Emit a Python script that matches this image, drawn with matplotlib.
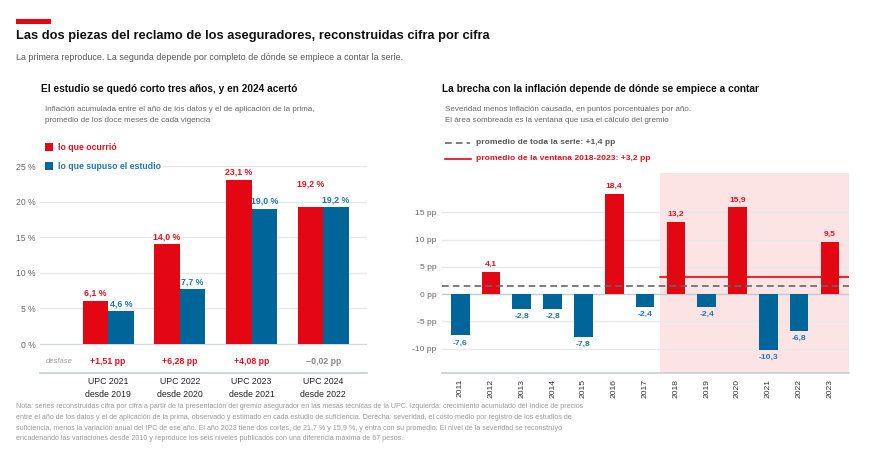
import matplotlib
matplotlib.use("Agg")
import matplotlib.pyplot as plt
from matplotlib.patches import Rectangle
from matplotlib.lines import Line2D
import numpy as np

plt.rcParams['font.family'] = ['Liberation Sans', 'DejaVu Sans']

# --- datos panel izquierdo ---
vigencias = ["UPC 2021\ndesde 2019", "UPC 2022\ndesde 2020", "UPC 2023\ndesde 2021", "UPC 2024\ndesde 2022"]
ocurrio = [6.1, 14.0, 23.1, 19.2]
supuso = [4.6, 7.7, 19.0, 19.2]
desfase = [1.51, 6.28, 4.08, -0.02]
pct_ticks = [0, 5, 10, 15, 20, 25]

# --- datos panel derecho ---
anios = [2011, 2012, 2013, 2014, 2015, 2016, 2017, 2018, 2019, 2020, 2021, 2022, 2023]
brecha = [-7.6, 4.1, -2.8, -2.8, -7.8, 18.4, -2.4, 13.2, -2.4, 15.9, -10.3, -6.8, 9.5]
pp_ticks = [-10, -5, 0, 5, 10, 15]
ventana = (2018, 2023)

RED = '#e30613'
BLUE = '#006699'
RED_TXT = '#e8101e'
BLUE_TXT = '#1f78b0'
GRID = '#e6e8ea'
AXLINE = '#c6ced4'

W, H = 889, 458
fig = plt.figure(figsize=(W / 100, H / 100), dpi=100)

def fx(px):
    return px / W

def fy(py):
    return 1 - py / H

# cabecera
fig.add_artist(Rectangle((fx(16), fy(24)), fx(51) - fx(16), fy(19) - fy(24), color=RED, lw=0))
fig.text(fx(16), fy(36), "Las dos piezas del reclamo de los aseguradores, reconstruidas cifra por cifra",
         fontsize=9.3, fontweight='bold', color='#111111', va='center')
fig.text(fx(16), fy(57), "La primera reproduce. La segunda depende por completo de dónde se empiece a contar la serie.",
         fontsize=6.4, color='#555555', va='center')

# ================= panel izquierdo =================
fig.text(fx(41), fy(89), "El estudio se quedó corto tres años, y en 2024 acertó",
         fontsize=7.3, fontweight='bold', color='#111111', va='center')
fig.text(fx(45), fy(115), "Inflación acumulada entre el año de los datos y el de aplicación de la prima,\n"
         "promedio de los doce meses de cada vigencia",
         fontsize=5.8, color='#666666', va='center', linespacing=1.75)

ax1 = fig.add_axes([fx(40), fy(373), fx(367) - fx(40), fy(166) - fy(373)])
x = np.arange(len(vigencias))
bw = 0.355
ax1.bar(x - bw / 2, ocurrio, bw, color=RED, zorder=3)
ax1.bar(x + bw / 2, supuso, bw, color=BLUE, zorder=3)
ax1.set_xlim(-0.95, 3.61)
ax1.set_ylim(-4.07, 25)
ax1.set_yticks(pct_ticks)
ax1.set_yticklabels([f"{t} %" for t in pct_ticks])
for t in pct_ticks:
    ax1.axhline(t, color=GRID if t else '#d3d9dd', lw=1, zorder=1)
ax1.set_xticks(x)
ax1.set_xticklabels(vigencias, fontsize=6.3, color='#222222', linespacing=1.55)
ax1.tick_params(axis='x', length=0, pad=3)
ax1.tick_params(axis='y', length=0, pad=3, labelsize=6.2, labelcolor='#666666')
for s in ['top', 'right', 'left']:
    ax1.spines[s].set_visible(False)
ax1.spines['bottom'].set_color(AXLINE)
ax1.spines['bottom'].set_linewidth(1.2)

px_per_unit = (373 - 166) / (25 + 4.07)
off = 7.5 / px_per_unit
for i in range(len(vigencias)):
    ry = ocurrio[i] + off
    if abs(ocurrio[i] - supuso[i]) < 1:
        ry = ocurrio[i] + 23 / px_per_unit
    ax1.text(x[i] - bw / 2, ry, f"{ocurrio[i]:.1f} %".replace('.', ','), ha='center', va='center',
             fontsize=6.3, fontweight='bold', color=RED_TXT, clip_on=False)
    ax1.text(x[i] + bw / 2, supuso[i] + off, f"{supuso[i]:.1f} %".replace('.', ','), ha='center', va='center',
             fontsize=6.3, fontweight='bold', color=BLUE_TXT, clip_on=False)
    d = desfase[i]
    lab = (f"+{d:.2f} pp" if d > 0 else f"\u2212{abs(d):.2f} pp").replace('.', ',')
    ax1.text(x[i], -2.4, lab, ha='center', va='center', fontsize=6.3, fontweight='bold',
             color=RED_TXT if d > 0 else '#8a8a8a')
ax1.text(-0.877, -2.4, "desfase", ha='left', va='center', fontsize=5.6, style='italic', color='#9a9a9a')

# leyenda izquierda
for py, col, lab in [(147, RED, "lo que ocurrió"), (166, BLUE, "lo que supuso el estudio")]:
    fig.add_artist(Rectangle((fx(45), fy(py + 4)), fx(8), fy(0) - fy(8), color=col, lw=0, zorder=5))
    fig.text(fx(58), fy(py), lab, fontsize=6.3, fontweight='bold', color=RED_TXT if col == RED else BLUE_TXT,
             va='center', zorder=5, bbox=dict(facecolor='white', edgecolor='none', pad=1.5))

# ================= panel derecho =================
fig.text(fx(442), fy(89), "La brecha con la inflación depende de dónde se empiece a contar",
         fontsize=7.3, fontweight='bold', color='#111111', va='center')
fig.text(fx(445), fy(115), "Severidad menos inflación causada, en puntos porcentuales por año.\n"
         "El área sombreada es la ventana que usa el cálculo del gremio",
         fontsize=5.8, color='#666666', va='center', linespacing=1.75)

prom_total = np.mean(brecha)
w0 = anios.index(ventana[0])
w1 = anios.index(ventana[1])
prom_ventana = np.mean(brecha[w0:w1 + 1])

fig.add_artist(Line2D([fx(445), fx(470)], [fy(143), fy(143)], color='#666666', lw=1.2, ls=(0, (4, 2.5))))
fig.text(fx(476), fy(143), f"promedio de toda la serie: +{prom_total:.1f} pp".replace('.', ','),
         fontsize=6.1, fontweight='bold', color='#555555', va='center')
fig.add_artist(Line2D([fx(445), fx(471)], [fy(159), fy(159)], color=RED, lw=1.2))
fig.text(fx(476), fy(159), f"promedio de la ventana {ventana[0]}-{ventana[1]}: +{prom_ventana:.1f} pp".replace('.', ','),
         fontsize=6.1, fontweight='bold', color=RED_TXT, va='center')

ax2 = fig.add_axes([fx(441.7), fy(373.3), fx(849) - fx(441.7), fy(173.3) - fy(373.3)])
xr = np.arange(len(anios))
cols = [RED if v > 0 else BLUE for v in brecha]
ax2.set_xlim(-0.6, 12.62)
ax2.set_ylim(-14.55, 22.15)
ax2.axvspan(w0 - 0.5, 12.62, color='#fce4e4', lw=0, zorder=0)
for t in pp_ticks:
    ax2.axhline(t, color=GRID if t else '#b8ccd8', lw=1, zorder=1)
ax2.bar(xr, brecha, 0.605, color=cols, zorder=3)
ax2.axhline(prom_total, color='#666666', lw=1.2, ls=(0, (4, 2.5)), zorder=4)
ax2.plot([w0 - 0.5, 12.62], [prom_ventana, prom_ventana], color=RED, lw=1.2, zorder=4)
ppu = (373.3 - 173.3) / (22.15 + 14.55)
for i, v in enumerate(brecha):
    lab = f"{v:.1f}".replace('.', ',')
    if v > 0:
        ax2.text(xr[i], v + 7.5 / ppu, lab, ha='center', va='center', fontsize=6.1,
                 fontweight='bold', color=RED_TXT)
    else:
        ax2.text(xr[i], v - 7.5 / ppu, lab, ha='center', va='center', fontsize=6.1,
                 fontweight='bold', color=BLUE_TXT)
ax2.set_yticks(pp_ticks)
ax2.set_yticklabels([f"{t} pp" for t in pp_ticks])
ax2.set_xticks(xr)
ax2.set_xticklabels([str(a) for a in anios], rotation=90)
ax2.tick_params(axis='x', length=0, pad=4, labelsize=6.1, labelcolor='#333333')
ax2.tick_params(axis='y', length=0, pad=4, labelsize=6.1, labelcolor='#666666')
for s in ['top', 'right', 'left']:
    ax2.spines[s].set_visible(False)
ax2.spines['bottom'].set_color(AXLINE)
ax2.spines['bottom'].set_linewidth(1.2)

# nota
nota = ("Nota: series reconstruidas cifra por cifra a partir de la presentación del gremio asegurador en las mesas técnicas de la UPC. Izquierda: crecimiento acumulado del índice de precios\n"
        "entre el año de los datos y el de aplicación de la prima, observado y estimado en cada estudio de suficiencia. Derecha: severidad, el costo medio por registro de los estudios de\n"
        "suficiencia, menos la variación anual del IPC de ese año. El año 2023 tiene dos cortes, de 21,7 % y 15,9 %, y entra con su promedio. El nivel de la severidad se reconstruyó\n"
        "encadenando las variaciones desde 2010 y reproduce los seis niveles publicados con una diferencia máxima de 67 pesos.")
fig.text(fx(16), fy(403), nota, fontsize=5.1, color='#999999', va='top', linespacing=1.75)

fig.savefig("out.png", dpi=100)
